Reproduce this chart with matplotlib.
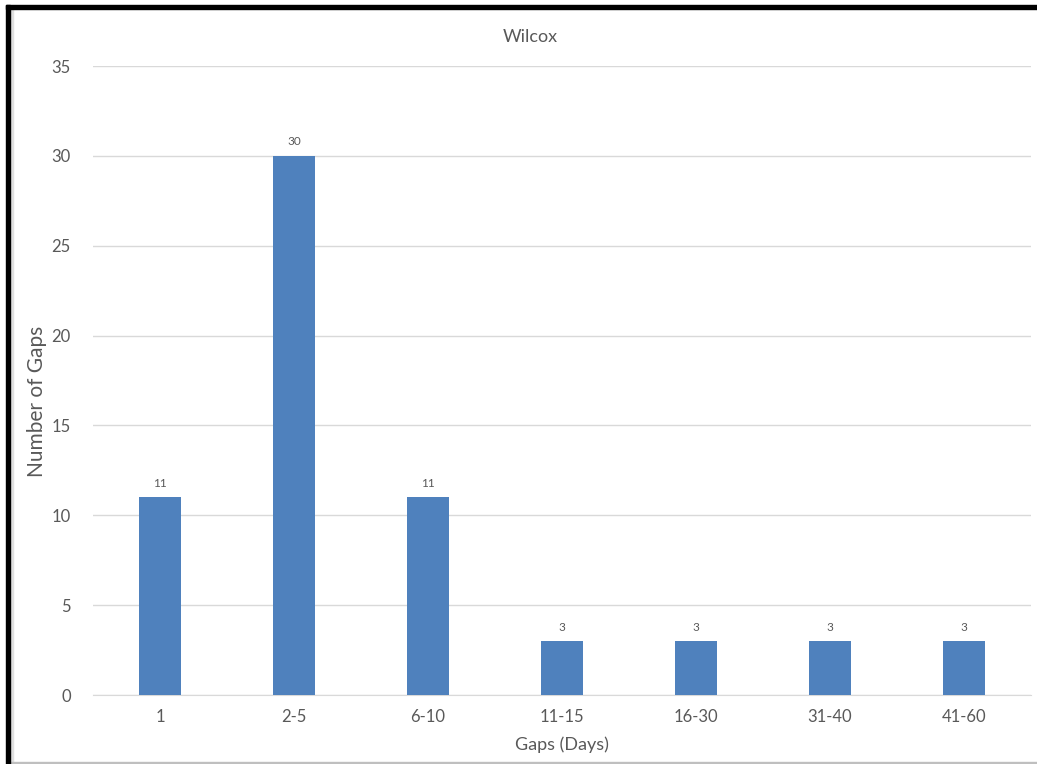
"""Bar chart of gap-length counts for the Wilcox station."""

import matplotlib

matplotlib.use("Agg")

from matplotlib import pyplot as plt  # noqa: E402
from matplotlib.patches import Rectangle  # noqa: E402

TITLE = "Wilcox"
CATEGORIES = ["1", "2-5", "6-10", "11-15", "16-30", "31-40", "41-60"]
GAP_COUNTS = [11, 30, 11, 3, 3, 3, 3]
Y_TICKS = [0, 5, 10, 15, 20, 25, 30, 35]

BAR_COLOR = "#4F81BD"
TEXT_COLOR = "#595959"
GRID_COLOR = "#D9D9D9"

plt.rcParams["font.family"] = ["Lato", "DejaVu Sans"]

fig = plt.figure(figsize=(10.37, 7.64), dpi=100)
ax = fig.add_axes([0.0897, 0.0903, 0.9045, 0.8233])

positions = range(len(CATEGORIES))
bars = ax.bar(positions, GAP_COUNTS, width=0.31, color=BAR_COLOR, zorder=3)
for bar, value in zip(bars, GAP_COUNTS):
    ax.annotate(
        str(value),
        (bar.get_x() + bar.get_width() / 2, value),
        xytext=(0, 14),
        textcoords="offset pixels",
        ha="center",
        va="center",
        fontsize=8.5,
        color=TEXT_COLOR,
    )

ax.set_xlim(-0.5, len(CATEGORIES) - 0.5)
ax.set_ylim(0, 35)
ax.set_yticks(Y_TICKS)
ax.set_xticks(list(positions))
ax.set_xticklabels(CATEGORIES)
ax.tick_params(axis="both", length=0, labelsize=12, colors=TEXT_COLOR)
ax.tick_params(axis="y", pad=16)
ax.tick_params(axis="x", pad=10)
ax.grid(axis="y", color=GRID_COLOR, linewidth=1, zorder=0)
for side in ["top", "right", "left"]:
    ax.spines[side].set_visible(False)
ax.spines["bottom"].set_color(GRID_COLOR)

fig.text(530 / 1037, 1 - 37 / 764, TITLE, fontsize=13, color=TEXT_COLOR,
         ha="center", va="center")
ax.set_xlabel("Gaps (Days)", fontsize=13, color=TEXT_COLOR, labelpad=8)
ax.set_ylabel("Number of Gaps", fontsize=15, color=TEXT_COLOR)
ax.yaxis.set_label_coords(-0.049, 0.467)

# frame around the chart: heavy black on top/left, thin grey inside and at the bottom
fig.patches.append(Rectangle((6 / 1037, 0), 4 / 1037, 1 - 5 / 764,
                             transform=fig.transFigure, color="black", zorder=10))
fig.patches.append(Rectangle((6 / 1037, 1 - 9 / 764), 1, 4 / 764,
                             transform=fig.transFigure, color="black", zorder=10))
fig.patches.append(Rectangle((11 / 1037, 0), 1.5 / 1037, 1 - 9 / 764,
                             transform=fig.transFigure, color="#E0E0E0", zorder=9))
fig.patches.append(Rectangle((11 / 1037, 1 / 764), 1, 1.5 / 764,
                             transform=fig.transFigure, color="#BFBFBF", zorder=9))

fig.savefig("out.png", dpi=100)
